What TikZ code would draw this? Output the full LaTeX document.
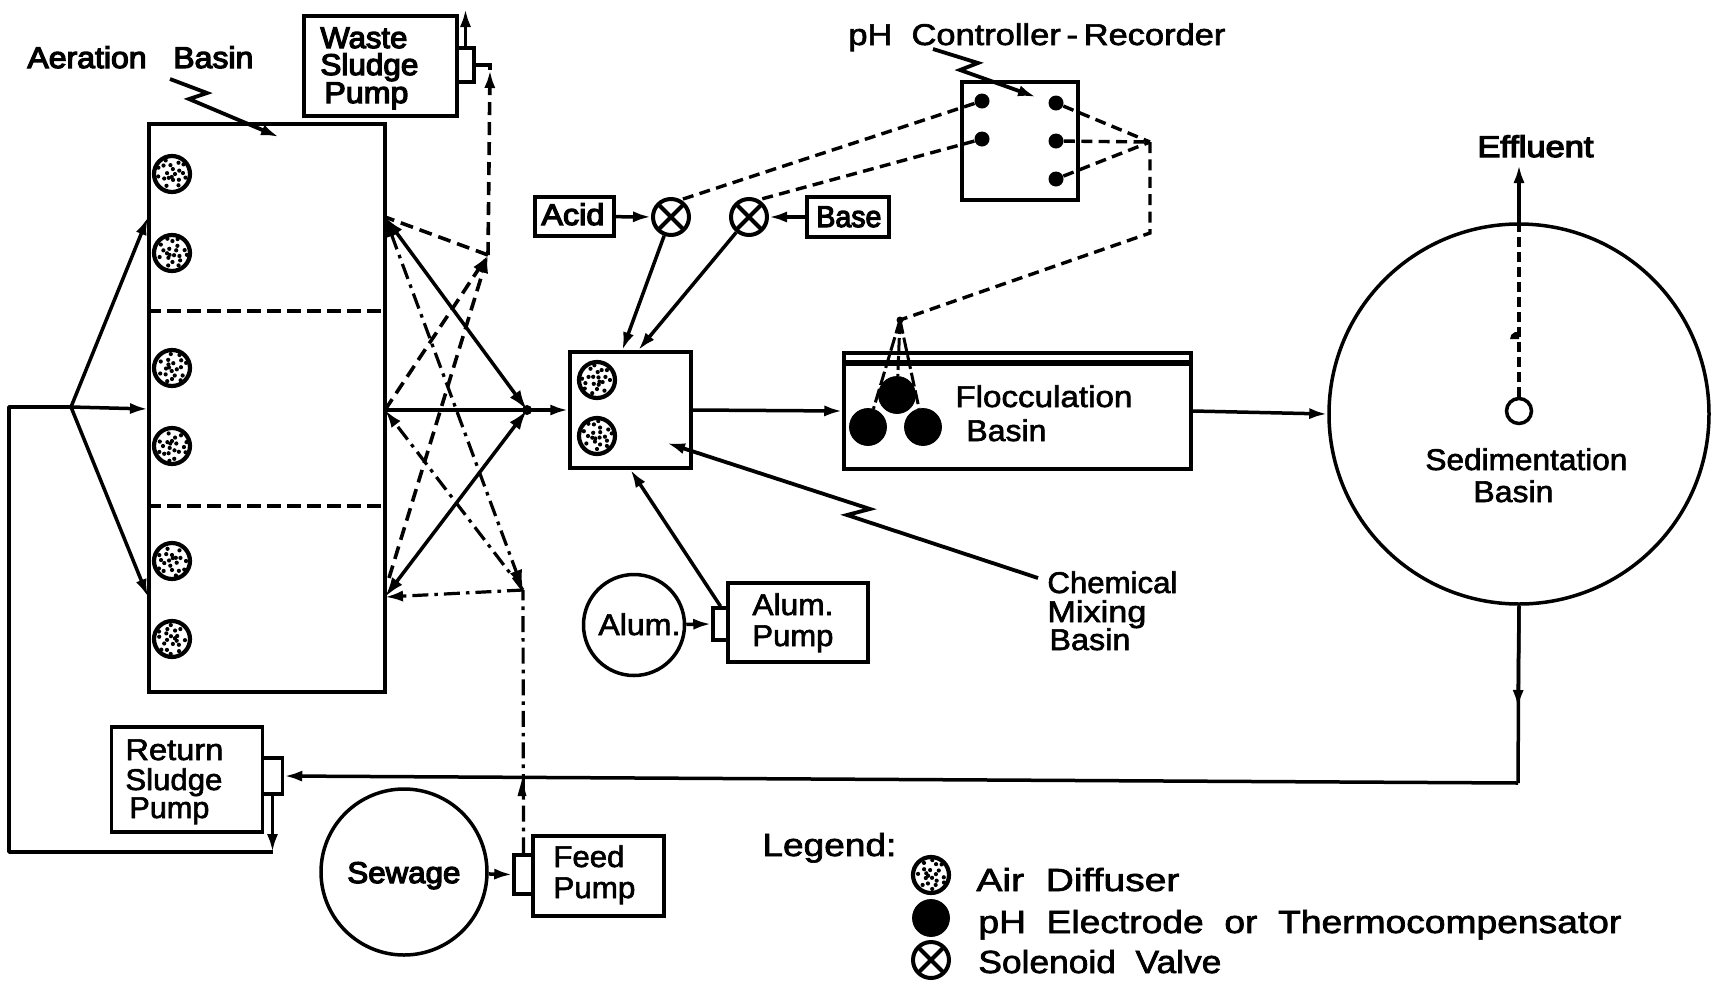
\documentclass[tikz,border=0pt]{standalone}
\usepackage{fontspec}
\usepackage{graphicx}
\setmainfont{Liberation Sans}[FakeBold=2]
\newfontfamily\hv{Liberation Sans}[FakeBold=4]
\usetikzlibrary{arrows.meta,calc}
\newdimen\pxu \pxu=.5pt
\newcommand{\fw}[2]{\resizebox{#1\pxu}{\height}{#2}}
\tikzset{
  lw/.style={line width=1.75pt},
  arr/.style={-{Latex[length=9pt,width=5.6pt]}},
  arrb/.style={{Latex[length=10pt,width=6.4pt]}-{Latex[length=10pt,width=6.4pt]}},
  dsh/.style={line width=1.7pt,dash pattern=on 5.5pt off 3.2pt},
  dsh2/.style={line width=1.8pt,dash pattern=on 6.5pt off 3.5pt},
  dd/.style={line width=1.6pt,dash pattern=on 8pt off 3pt on 1.8pt off 3pt},
  bx/.style n args={2}{draw,rectangle,line width=1.75pt,minimum width=#1*.5pt,minimum height=#2*.5pt,inner sep=0pt},
  lbl/.style={anchor=base west,inner sep=0pt,font=\fontsize{15}{18}\selectfont},
  rnd/.style={draw,circle,line width=1.75pt,inner sep=0pt,minimum size=#1*.5pt},
  diffuser/.style={circle,draw,line width=2.1pt,inner sep=0pt,minimum size=36*.5pt,
    path picture={
      \foreach \a/\r in {0/3,40/9,80/6,115/13,150/9,190/5,225/12,260/9,300/13,335/8,15/14,60/13,95/3,170/14,205/15,245/15,280/5,320/15,355/11,130/5}
        {\fill ($(path picture bounding box.center)+(#1+\a:\r)$) circle (2.1);}
    }},
  diffuser/.default=0,
  elec/.style={circle,fill=black,draw=black,inner sep=0pt,minimum size=37*.5pt},
  rdot/.style={circle,fill=black,inner sep=0pt,minimum size=15*.5pt},
  valve/.style={circle,draw,line width=2pt,inner sep=0pt,minimum size=36*.5pt,
    path picture={
      \draw[line width=2pt] (path picture bounding box.north west) -- (path picture bounding box.south east);
      \draw[line width=2pt] (path picture bounding box.north east) -- (path picture bounding box.south west);
    }},
}
\begin{document}
\begin{tikzpicture}[x=.5pt,y=-.5pt]
\useasboundingbox (0,0) rectangle (1714,986);
% boxes
\node[bx={236}{568}] (aer) at (267,408) {};
\node[bx={153}{100}] (wb) at (380.5,66) {};
\node[bx={17}{34}] (wp) at (465.5,65) {};
\node[bx={121}{116}] (chem) at (630.5,410) {};
\node[bx={347}{116}] (floc) at (1017.5,411) {};
\node[bx={116}{118}] (rec) at (1020,141) {};
\node[bx={79}{39}] (acid) at (574.5,216.5) {};
\node[bx={82}{40}] (base) at (848,217) {};
\node[bx={140}{79}] (ab) at (798,622.5) {};
\node[bx={15}{32}] (ap) at (720.5,624) {};
\node[bx={151}{105}] (rb) at (187,779.5) {};
\node[bx={20}{36}] (rp) at (272.5,776) {};
\node[bx={131}{80}] (fb) at (598.5,876) {};
\node[bx={19}{39}] (fp) at (523.5,874.5) {};
% circles
\node[rnd=166] (sew) at (404,872) {};
\node[rnd=101] (alum) at (634,625) {};
\node[rnd=380] (sed) at (1519,414) {};
\node[rnd=25] (drain) at (1519,411) {};
% diffusers
\node[diffuser=0] (d1) at (172,174) {};
\node[diffuser=47] (d2) at (172,253) {};
\node[diffuser=95] (d3) at (172,368) {};
\node[diffuser=140] (d4) at (172,446) {};
\node[diffuser=190] (d5) at (172,561) {};
\node[diffuser=250] (d6) at (172,639) {};
\node[diffuser=300] (d7) at (597,380) {};
\node[diffuser=30] (d8) at (597,436) {};
% electrodes
\node[elec] (e1) at (897,395) {};
\node[elec] (e2) at (868,427) {};
\node[elec] (e3) at (923,427) {};
% recorder terminals
\node[rdot] (r1) at (982,101) {};
\node[rdot] (r2) at (982,139) {};
\node[rdot] (r3) at (1056,103) {};
\node[rdot] (r4) at (1056,141) {};
\node[rdot] (r5) at (1056,179) {};
% valves
\node[valve] (va) at (671,217) {};
\node[valve] (vb) at (749,217) {};
% coordinates
\coordinate (n0) at (71,407);
\coordinate (outTL) at (9,407);
\coordinate (outBL) at (9,852);
\coordinate (rtip) at (272.5,852);
\coordinate (aL1) at (148,217);
\coordinate (aL2) at (148,409);
\coordinate (aL3) at (148,597);
\coordinate (aR1) at (385,217);
\coordinate (aR2) at (385,410);
\coordinate (aR3) at (385,597);
\coordinate (aR3b) at (389,578);
\coordinate (js) at (527,410);
\coordinate (jd) at (488,255);
\coordinate (jc) at (523,590);
\coordinate (wtip) at (490,70);
\coordinate (ftip) at (522,780);
\coordinate (apex) at (900,320);
\coordinate (jr) at (1150,142);
\coordinate (cr) at (1150,233);
\coordinate (sedmid) at (1518,708);
\coordinate (sedcor) at (1518,783);
\coordinate (efftip) at (1519,165);
\coordinate (wtop) at (465.5,9);
% partitions
\draw[line width=1.7pt,dash pattern=on 7pt off 3pt] (aer.west |- 0,311) -- (aer.east |- 0,311);
\draw[line width=1.7pt,dash pattern=on 7pt off 3pt] (aer.west |- 0,506) -- (aer.east |- 0,506);
% flocculation inner band
\draw[line width=3.2pt] ([yshift=-5.8pt]floc.north west) -- ([yshift=-5.8pt]floc.north east);
% left feed
\draw[lw,line join=round] (rtip) -- (outBL) -- (outTL) -- (n0);
\draw[lw,arr] (n0) -- (aL2);
\draw[lw,arr] (n0) -- (aL1);
\draw[lw,arr] (n0) -- (aL3);
% right of aeration basin: solid
\draw[lw] (aR2) -- (js);
\draw[lw,arrb] (aR1) -- (js);
\draw[lw,arrb] (aR3) -- (js);
\draw[lw,arr] (js) -- (chem.west);
\fill (js) circle (5);
% dashed
\draw[dsh2,arr] (aR2) -- (jd);
\draw[dsh2,arr] (aR3b) -- (jd);
\draw[dsh2] (jd) -- (aR1);
\draw[dsh2,arr] (jd) -- (wtip);
\draw[lw] (wp.east) -| (wtip);
\draw[lw,arr] (wp.north) -- (wtop);
% dash-dot
\draw[dd] (fp.north) -- (jc);
\fill (ftip) -- ++(-4.5,16) -- ++(9,0) -- cycle;
\draw[dd,arrb] (aR1) -- (jc);
\draw[dd,arr] (jc) -- (aR2);
\draw[dd,arr] (jc) -- (aR3);
% sewage and pumps
\draw[lw,arr] (sew) -- (fp.west);
\draw[lw,arr] (alum) -- (ap.west);
\draw[lw,arr] (ap.north) -- (chem.south);
\draw[lw,arr] (rp.south) -- (rtip);
% chemicals
\draw[lw,arr] (acid) -- (va);
\draw[lw,arr] (base) -- (vb);
\draw[lw,arr] (va) -- ($(chem.north west)+(54,0)$);
\draw[lw,arr] (vb) -- ($(chem.north west)+(70,0)$);
\draw[lw,arr] (chem.east) -- (floc.west);
\draw[lw,arr] (floc.east) -- (sed.west);
% controller signals
\draw[dsh] (r1) -- (va.60);
\draw[dsh] (r2) -- (vb.60);
\draw[dsh] (r3) -- (jr);
\draw[dsh] (r4) -- (jr);
\draw[dsh] (r5) -- (jr);
\draw[dsh] (jr) -- (cr) -- (apex);
\draw[line width=1.5pt,dash pattern=on 7pt off 2pt] (apex) -- (e1);
\draw[line width=1.5pt,dash pattern=on 7pt off 2pt] (apex) -- (e2);
\draw[line width=1.5pt,dash pattern=on 7pt off 2pt] (apex) -- (e3);
\fill (apex) circle (3.5);
% sedimentation
\draw[lw,arr] (sed.north) -- (efftip);
\draw[dsh,dash pattern=on 5pt off 2.5pt] (sed.north) -- (drain.north);
\fill (1510,339) -- (1519,339) -- (1519,332) -- (1515,332) .. controls (1512,333) and (1510,336) .. cycle;
\draw[lw,arr] (sed.south) -- (sedmid);
\draw[lw] (sed.south) -- (sedcor);
\draw[lw,arr] (sedcor) -- (rp.east);
% zigzag leaders
\draw[line width=1.9pt,arr] (170,79) -- (207,93) -- (189,99) -- (279,137);
\draw[line width=1.9pt,arr] (933,49) -- (978,63) -- (960,70) -- (1036,97);
\draw[line width=1.9pt,arr] (1038,578) -- (847,515) -- (870,509) -- (667,443);
% texts
\node[lbl] (tA) at (27,68) {\fw{226}{\hv Aeration\ \ \ Basin}};
\node[lbl] (tW1) at (320,48) {\fw{87}{\hv Waste}};
\node[lbl] (tW2) at (320,75) {\fw{98}{\hv Sludge}};
\node[lbl] (tW3) at (324,103) {\fw{84}{\hv Pump}};
\node[lbl] (tC) at (848,45) {\fw{377}{pH\ \ Controller\,-\,Recorder}};
\node[lbl] (tAc) at (541,225) {\fw{63}{\hv Acid}};
\node[lbl] (tBa) at (816,227) {\fw{65}{\hv Base}};
\node[lbl] (tF1) at (955,407) {\fw{177}{Flocculation}};
\node[lbl] (tF2) at (966,441) {\fw{80}{Basin}};
\node[lbl] (tE) at (1477,157) {\fw{116}{\hv Effluent}};
\node[lbl] (tS1) at (1425,470) {\fw{202}{Sedimentation}};
\node[lbl] (tS2) at (1473,502) {\fw{80}{Basin}};
\node[lbl] (tCh1) at (1047,593) {\fw{130}{Chemical}};
\node[lbl] (tCh2) at (1047,622) {\fw{99}{Mixing}};
\node[lbl] (tCh3) at (1049,650) {\fw{81}{Basin}};
\node[lbl] (tAl) at (598,635) {\fw{82}{Alum.}};
\node[lbl] (tAp1) at (752,615) {\fw{81}{Alum.}};
\node[lbl] (tAp2) at (752,646) {\fw{81}{Pump}};
\node[lbl] (tR1) at (125,760) {\fw{98}{Return}};
\node[lbl] (tR2) at (125,790) {\fw{97}{Sludge}};
\node[lbl] (tR3) at (129,818) {\fw{80}{Pump}};
\node[lbl] (tSw) at (347,883) {\fw{113}{\hv Sewage}};
\node[lbl] (tFe) at (553,867) {\fw{71}{Feed}};
\node[lbl] (tFp) at (553,898) {\fw{82}{Pump}};
% legend
\node[lbl,font=\fontsize{16}{19}\selectfont] (tL) at (762,856) {\fw{134}{Legend:}};
\node[diffuser=70] (ld) at (931,875) {};
\node[elec] (le) at (931,918) {};
\node[valve] (lv) at (931,960) {};
\node[lbl,font=\fontsize{16}{19}\selectfont] (tL1) at (976,891) {\fw{203}{Air\ \ Diffuser}};
\node[lbl,font=\fontsize{16}{19}\selectfont] (tL2) at (978,933) {\fw{643}{pH\ \ Electrode\ \ or\ \ Thermocompensator}};
\node[lbl,font=\fontsize{16}{19}\selectfont] (tL3) at (978,973) {\fw{243}{Solenoid\ \ Valve}};
\end{tikzpicture}
\end{document}
